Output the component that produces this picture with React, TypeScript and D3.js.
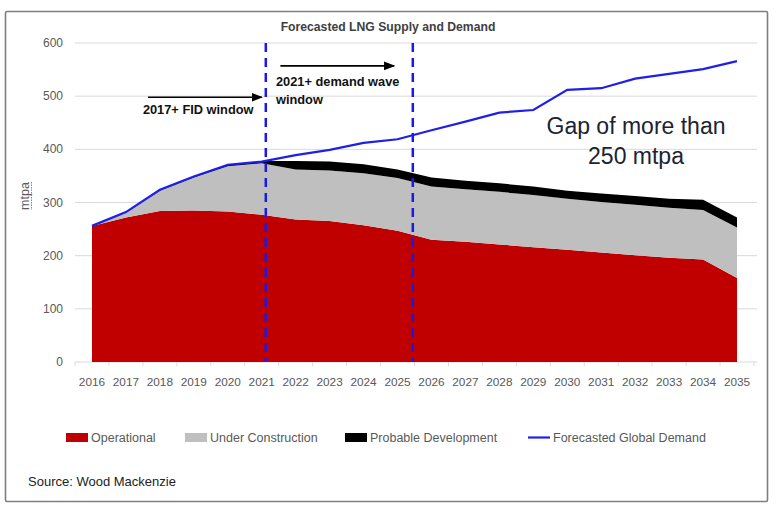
import React from "react";
import * as d3 from "d3";

const years = [2016, 2017, 2018, 2019, 2020, 2021, 2022, 2023, 2024, 2025, 2026, 2027, 2028, 2029, 2030, 2031, 2032, 2033, 2034, 2035];
const operational = [256, 272, 284, 285, 283, 277, 268, 265, 257, 247, 230, 226, 221, 216, 211, 206, 201, 196, 193, 158];
const underConstruction = [0, 9, 38, 62, 85, 97, 94, 95, 98, 99, 100, 99, 99, 98, 96, 95, 95, 94, 93, 95];
const probableDevelopment = [0, 1, 2, 2, 3, 4, 16, 17, 17, 16, 17, 16, 16, 16, 15, 16, 16, 17, 19, 19];
const globalDemand = [256, 282, 324, 349, 371, 377, 389, 399, 412, 419, 436, 452, 469, 474, 512, 515, 533, 542, 551, 566];
const yTicks = [0, 100, 200, 300, 400, 500, 600];
const windowMarkers = [2021.12, 2025.45];

const seriesKeys = ["operational", "underConstruction", "probableDevelopment"];
const seriesColors: Record<string, string> = {
  operational: "#c00000",
  underConstruction: "#bfbfbf",
  probableDevelopment: "#000000",
};
const legendItems = [
  { label: "Operational", color: "#c00000", kind: "rect", x: 66 },
  { label: "Under Construction", color: "#bfbfbf", kind: "rect", x: 185 },
  { label: "Probable Development", color: "#000000", kind: "rect", x: 345 },
  { label: "Forecasted Global Demand", color: "#1f1fe6", kind: "line", x: 528 },
];

const W = 778;
const H = 508;
const FONT = "'Liberation Sans', Arial, sans-serif";

export default function App() {
  const x = d3.scalePoint<number>().domain(years).range([75, 754]).padding(0.5);
  const xc = (yr: number) => x(yr) as number;
  const xLin = d3.scaleLinear().domain([2016, 2035]).range([xc(2016), xc(2035)]);
  const y = d3.scaleLinear().domain([0, 600]).range([362, 43]);

  const table = years.map((yr, i) => ({
    year: yr,
    operational: operational[i],
    underConstruction: underConstruction[i],
    probableDevelopment: probableDevelopment[i],
  }));
  const stacked = d3.stack<any>().keys(seriesKeys)(table);
  const area = d3
    .area<any>()
    .x((d) => xc(d.data.year))
    .y0((d) => y(d[0]))
    .y1((d) => y(d[1]));
  const line = d3
    .line<number>()
    .x((_, i) => xc(years[i]))
    .y((d) => y(d));

  const bw = x.step();
  const boundaries = d3.range(years.length + 1).map((i) => 75 + i * bw);

  return (
    <svg width={W} height={H} style={{ position: "absolute", left: 0, top: 0, background: "#fff" }}>
      <defs>
        <marker id="arr" viewBox="0 0 10 10" refX="9" refY="5" markerWidth="7" markerHeight="7" orient="auto">
          <path d="M0,1 L10,5 L0,9 z" fill="#000" />
        </marker>
      </defs>
      <rect x={5.5} y={11.5} width={762} height={490} fill="#fff" stroke="#7f7f7f" strokeWidth={1.6} rx={1.5} />

      <text x={388} y={31} textAnchor="middle" fontFamily={FONT} fontSize={12.2} fontWeight={700} fill="#404040">
        Forecasted LNG Supply and Demand
      </text>

      {yTicks.map((t) => (
        <g key={t}>
          <line x1={75} x2={757} y1={y(t)} y2={y(t)} stroke="#d9d9d9" strokeWidth={1} />
          <text x={63} y={y(t) + 4} textAnchor="end" fontFamily={FONT} fontSize={12} fill="#595959">
            {t}
          </text>
        </g>
      ))}

      {boundaries.map((bx, i) => (
        <line key={i} x1={bx} x2={bx} y1={362} y2={366} stroke="#d9d9d9" strokeWidth={1} />
      ))}

      {stacked.map((s) => (
        <path key={s.key} d={area(s as any) || ""} fill={seriesColors[s.key]} />
      ))}

      <path d={line(globalDemand) || ""} fill="none" stroke="#1f1fe6" strokeWidth={2.2} />

      {windowMarkers.map((m) => (
        <line
          key={m}
          x1={xLin(m)}
          x2={xLin(m)}
          y1={y(600)}
          y2={y(0)}
          stroke="#1a1ae6"
          strokeWidth={2.5}
          strokeDasharray="9,6"
        />
      ))}

      {years.map((yr) => (
        <text key={yr} x={xc(yr)} y={386} textAnchor="middle" fontFamily={FONT} fontSize={11.8} fill="#595959">
          {yr}
        </text>
      ))}

      <text transform={`translate(29,196) rotate(-90)`} textAnchor="middle" fontFamily={FONT} fontSize={12.5} fill="#595959">
        mtpa
      </text>
      <line x1={31.5} x2={31.5} y1={182} y2={210} stroke="#e06060" strokeWidth={1} strokeDasharray="1.5,1" />

      {/* annotations */}
      <line x1={xLin(2017.65)} x2={xLin(2021.0)} y1={y(498)} y2={y(498)} stroke="#000" strokeWidth={1.6} markerEnd="url(#arr)" />
      <text x={xLin(2017.5)} y={114} fontFamily={FONT} fontSize={12.8} fontWeight={700} fill="#111">
        2017+ FID window
      </text>
      <line x1={xLin(2021.55)} x2={xLin(2024.9)} y1={y(557)} y2={y(557)} stroke="#000" strokeWidth={1.6} markerEnd="url(#arr)" />
      <text x={xLin(2021.42)} y={86} fontFamily={FONT} fontSize={12.8} fontWeight={700} fill="#111">
        2021+ demand wave
      </text>
      <text x={xLin(2021.42)} y={104} fontFamily={FONT} fontSize={12.8} fontWeight={700} fill="#111">
        window
      </text>

      <text x={636} y={134} textAnchor="middle" fontFamily={FONT} fontSize={23} fill="#1b2333">
        Gap of more than
      </text>
      <text x={636} y={164} textAnchor="middle" fontFamily={FONT} fontSize={23} fill="#1b2333">
        250 mtpa
      </text>

      {/* legend */}
      {legendItems.map((it) => (
        <g key={it.label}>
          {it.kind === "rect" ? (
            <rect x={it.x} y={433} width={22} height={9} fill={it.color} />
          ) : (
            <line x1={it.x} x2={it.x + 22} y1={437.5} y2={437.5} stroke={it.color} strokeWidth={2.2} />
          )}
          <text x={it.x + 25} y={442} fontFamily={FONT} fontSize={12.5} fill="#595959">
            {it.label}
          </text>
        </g>
      ))}

      <text x={28} y={486} fontFamily={FONT} fontSize={13} fill="#222">
        Source: Wood Mackenzie
      </text>
    </svg>
  );
}
